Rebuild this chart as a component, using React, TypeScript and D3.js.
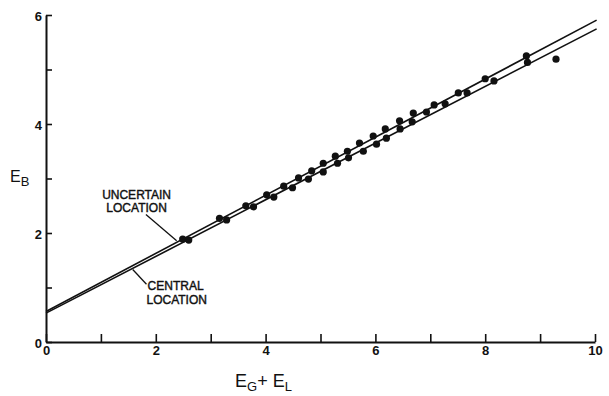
import React, { useEffect, useRef } from 'react'
import * as d3 from 'd3'

// points lying along the upper fit
const upperX = [2.49, 3.16, 3.64, 4.02, 4.33, 4.6, 4.84, 5.05, 5.27, 5.49, 5.71, 5.96, 6.18, 6.44, 6.69, 7.07, 7.51, 8.0, 8.75]
const upperY = [1.89, 2.27, 2.5, 2.7, 2.86, 3.01, 3.14, 3.28, 3.41, 3.5, 3.65, 3.78, 3.91, 4.06, 4.2, 4.35, 4.57, 4.83, 5.25]
// points lying along the lower fit
const lowerX = [2.6, 3.29, 3.78, 4.15, 4.49, 4.78, 5.05, 5.31, 5.51, 5.78, 6.02, 6.2, 6.45, 6.67, 6.93, 7.27, 7.67, 8.16, 8.77]
const lowerY = [1.87, 2.24, 2.48, 2.66, 2.83, 2.99, 3.12, 3.28, 3.38, 3.5, 3.63, 3.74, 3.91, 4.04, 4.22, 4.37, 4.57, 4.79, 5.13]
// the lone point off both lines
const extraX = [9.29]
const extraY = [5.19]

// fitted lines: [intercept, slope]
const uncertainFit = [0.56, 0.533]
const centralFit = [0.53, 0.52]

const xTicks = [0, 1, 2, 3, 4, 5, 6, 7, 8, 9, 10]
const yTicks = [0, 1, 2, 3, 4, 5, 6]

const W = 609
const H = 396

function App() {
  const ref = useRef(null)

  useEffect(() => {
    const svg = d3.select(ref.current)
    svg.selectAll('*').remove()

    const x = d3.scaleLinear().domain([0, 10]).range([46, 595])
    const y = d3.scaleLinear().domain([0, 6]).range([342, 15])

    const font = 'Liberation Sans, Arial, sans-serif'

    // axes, ticks pointing inward
    const xAxis = d3.axisBottom(x)
      .tickValues(xTicks)
      .tickSize(-8)
      .tickSizeOuter(0)
      .tickPadding(4)
      .tickFormat(d => (+d % 2 === 0 ? String(d) : ''))
    const yAxis = d3.axisLeft(y)
      .tickValues(yTicks)
      .tickSize(-6)
      .tickSizeOuter(0)
      .tickPadding(4)
      .tickFormat(d => (+d % 2 === 0 ? String(d) : ''))

    const gx = svg.append('g').attr('transform', 'translate(0,342)').call(xAxis)
    const gy = svg.append('g').attr('transform', 'translate(46,0)').call(yAxis)
    for (const g of [gx, gy]) {
      g.select('.domain').attr('stroke', '#111').attr('stroke-width', 2)
      g.selectAll('.tick line').attr('stroke', '#111').attr('stroke-width', 1.6)
      g.selectAll('.tick text')
        .attr('fill', '#111')
        .style('font-family', font)
        .style('font-size', '13px')
        .style('font-weight', 'bold')
    }
    gy.selectAll('.tick text').attr('dy', '0.45em')

    // fit lines
    const fitLine = (f: number[]) => d3.line<number>()
      .x(d => x(d))
      .y(d => y(f[0] + f[1] * d))
    for (const f of [uncertainFit, centralFit]) {
      svg.append('path')
        .datum([0, 10.03])
        .attr('d', fitLine(f))
        .attr('fill', 'none')
        .attr('stroke', '#111')
        .attr('stroke-width', 1.6)
    }

    // points
    const pts = [
      ...upperX.map((v, i) => [v, upperY[i]]),
      ...lowerX.map((v, i) => [v, lowerY[i]]),
      ...extraX.map((v, i) => [v, extraY[i]]),
    ]
    svg.selectAll('.pt')
      .data(pts)
      .enter()
      .append('circle')
      .attr('class', 'pt')
      .attr('cx', d => x(d[0]))
      .attr('cy', d => y(d[1]))
      .attr('r', 3.6)
      .attr('fill', '#111')

    // annotations
    const label = (tx: number, ty: number, s: string, anchor: string) => {
      svg.append('text')
        .attr('x', x(tx))
        .attr('y', y(ty))
        .attr('text-anchor', anchor)
        .attr('fill', '#111')
        .attr('stroke', '#111')
        .attr('stroke-width', 0.4)
        .style('font-family', font)
        .style('font-size', '12px')
        .text(s)
    }
    label(1.65, 2.62, 'UNCERTAIN', 'middle')
    label(1.65, 2.38, 'LOCATION', 'middle')
    label(1.85, 0.95, 'CENTRAL', 'start')
    label(1.83, 0.70, 'LOCATION', 'start')

    const leader = (a: number[], b: number[]) => {
      svg.append('line')
        .attr('x1', x(a[0])).attr('y1', y(a[1]))
        .attr('x2', x(b[0])).attr('y2', y(b[1]))
        .attr('stroke', '#111')
        .attr('stroke-width', 1.3)
    }
    leader([1.82, 2.34], [2.38, 1.86])
    leader([1.58, 1.33], [1.83, 1.06])

    // axis titles
    const ey = svg.append('text')
      .attr('x', 10)
      .attr('y', y(2.93))
      .attr('fill', '#111')
      .style('font-family', font)
      .style('font-size', '16px')
    ey.append('tspan').text('E')
    ey.append('tspan').attr('dy', 4).style('font-size', '13px').text('B')

    const ex = svg.append('text')
      .attr('x', 235)
      .attr('y', 387)
      .attr('fill', '#111')
      .style('font-family', font)
      .style('font-size', '18px')
    ex.append('tspan').text('E')
    ex.append('tspan').attr('dy', 4).style('font-size', '13px').text('G')
    ex.append('tspan').attr('dy', -4).text('+')
    ex.append('tspan').text(' E')
    ex.append('tspan').attr('dy', 4).style('font-size', '13px').text('L')
  }, [])

  return (
    <svg
      ref={ref}
      width={W}
      height={H}
      style={{ position: 'absolute', left: 0, top: 0, background: '#fff' }}
    />
  )
}

export default App
